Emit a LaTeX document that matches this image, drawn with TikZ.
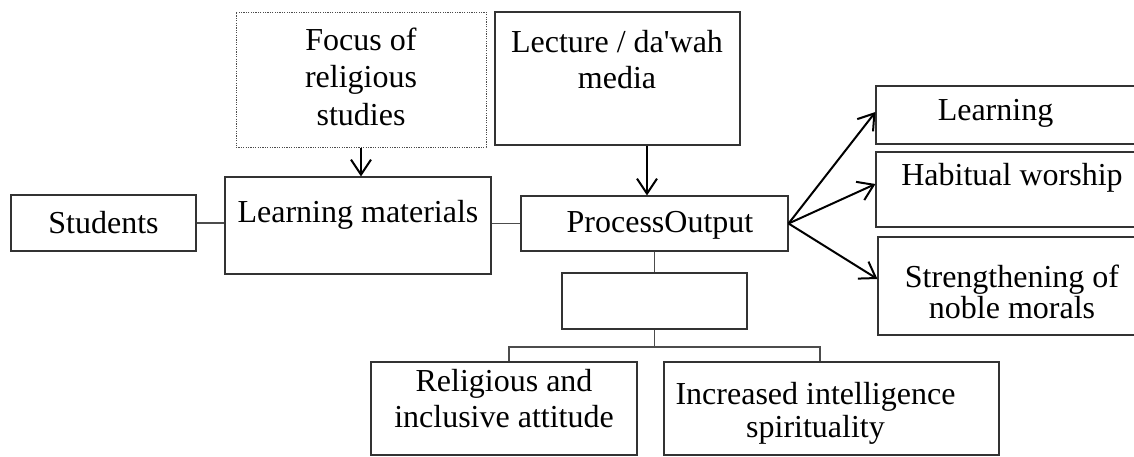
\documentclass[tikz,border=0pt]{standalone}
\usepackage{fontspec}
\setmainfont{Liberation Serif}
\usetikzlibrary{arrows.meta}
\tikzset{
  box/.style={draw=black!80, line width=0.55pt, inner sep=0pt},
  dotbox/.style={draw=black!70, line width=0.5pt, dash pattern=on 0.6pt off 0.6pt, inner sep=0pt},
  txt/.style={font=\fontsize{16}{17.8}\selectfont, align=center, inner sep=0pt, anchor=base},
  link/.style={draw=black!70, line width=0.55pt},
  arr/.style={line width=1pt, -{Straight Barb[length=7.5pt,width=10pt]}},
}
\begin{document}
\begin{tikzpicture}[x=0.5pt, y=-0.5pt]
            \useasboundingbox (0,0) rectangle (1134,456);
            \clip (0,0) rectangle (1134,456);
            % boxes
            \node[box, minimum width=92.5pt, minimum height=28pt] (students) at (103.5,223) {};
            \node[box, minimum width=133pt, minimum height=48.5pt] (materials) at (358,225.5) {};
            \node[dotbox, minimum width=125pt, minimum height=67.5pt] (focus) at (361,79.5) {};
            \node[box, minimum width=122.5pt, minimum height=66.5pt] (lecture) at (617.5,78.5) {};
            \node[box, minimum width=133.5pt, minimum height=27.5pt] (process) at (654.5,223.5) {};
            \node[box, minimum width=92.5pt, minimum height=28pt] (empty) at (654.5,301) {};
            \node[box, minimum width=133pt, minimum height=46.5pt] (religious) at (504,408.5) {};
            \node[box, minimum width=167.5pt, minimum height=46.5pt] (increased) at (831.5,408.5) {};
            \node[box, minimum width=140pt, minimum height=29pt] (learning) at (1016,115) {};
            \node[box, minimum width=140pt, minimum height=37.5pt] (habitual) at (1016,189.5) {};
            \node[box, minimum width=139pt, minimum height=49pt] (strength) at (1017,286) {};
            % texts (base = last line)
            \node[txt] (students-t) at (103.5,233) {Students};
            \node[txt] (materials-t) at (358,222) {Learning materials};
            \node[txt, font=\fontsize{16}{18.7}\selectfont] (focus-t) at (361,125) {Focus of\\religious\\studies};
            \node[txt] (lecture-t) at (617,88) {Lecture / da\textquotesingle wah\\media};
            \node[txt] (process-t) at (660,232) {ProcessOutput};
            \node[txt] (religious-t) at (504,427) {Religious and\\inclusive attitude};
            \node[txt, font=\fontsize{16}{16.2}\selectfont] (increased-t) at (815.5,437) {Increased intelligence\\spirituality};
            \node[txt, font=\fontsize{16}{15.2}\selectfont] (strength-t) at (1012,318) {Strengthening of\\noble morals};
            \node[txt] (learning-t) at (995.5,120) {Learning};
            \node[txt] (habitual-t) at (1012,185) {Habitual worship};
            % connectors
            \coordinate (lecx) at (647,0);
            \coordinate (forkl) at (509,347);
            \coordinate (forkr) at (820,347);
            \draw[link] (students.east) -- (students.east -| materials.west);
            \draw[link] (materials.east |- process.west) -- (process.west);
            \draw[link] (process.south) -- (empty.north);
            \draw[link] (empty.south) -- (empty.south |- forkl);
            \draw[link] (religious.north -| forkl) -- (forkl) -- (forkr) -- (increased.north -| forkr);
            \draw[arr] (focus.south) -- (focus.south |- materials.north);
            \draw[arr] (lecture.south -| lecx) -- (process.north -| lecx);
            \draw[arr] (process.east) -- ([yshift=1.5pt]learning.west);
            \draw[arr] (process.east) -- ([yshift=2.75pt]habitual.west);
            \draw[arr] (process.east) -- ([yshift=3.5pt]strength.west);
        \end{tikzpicture}
\end{document}
